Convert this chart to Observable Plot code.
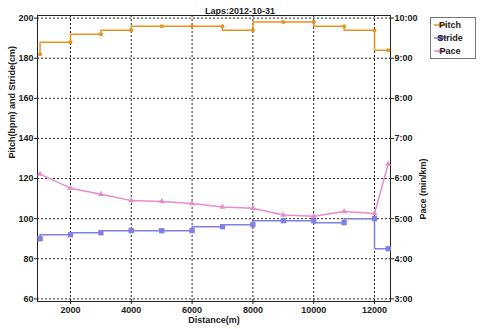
<!DOCTYPE html>
<html><head><meta charset="utf-8">
<script src="https://cdn.jsdelivr.net/npm/d3@7"></script>
<script src="https://cdn.jsdelivr.net/npm/@observablehq/plot@0.6"></script>
<style>
body{margin:0;background:#fff}
svg{font-family:"Liberation Sans",Arial,sans-serif}
</style>
</head><body><div id="chart"></div>
<script>
const distance = [1000, 2000, 3000, 4000, 5000, 6000, 7000, 8000, 9000, 10000, 11000, 12000, 12450];
const pitch    = [182, 188, 192, 194, 196, 196, 196, 194, 198, 198, 196, 194, 184];
const stride   = [90, 92, 93, 94, 94, 94, 96, 97, 99, 99, 98, 100, 85];
const paceMin  = [6.11, 5.76, 5.61, 5.45, 5.43, 5.38, 5.29, 5.26, 5.09, 5.06, 5.18, 5.13, 6.36];
const xTicks = [2000, 4000, 6000, 8000, 10000, 12000];
const leftTicks = [60, 80, 100, 120, 140, 160, 180, 200];
const paceTicks = [3, 4, 5, 6, 7, 8, 9, 10];
const seriesNames = ["Pitch", "Stride", "Pace"];
const colors = {Pitch: "#e8921f", Stride: "#7f7fe6", Pace: "#e98bc9"};

// pace (min/km) shares the left scale: 3:00 <-> 60, 10:00 <-> 200
const toLeft = m => m * 20;
const rows = distance.map((d, i) => ({d, pitch: pitch[i], stride: stride[i], pace: toLeft(paceMin[i])}));

const font = {fontSize: 9, fontWeight: "bold", fill: "#222"};

const chart = Plot.plot({
  width: 480, height: 329,
  marginLeft: 37, marginRight: 90, marginTop: 15, marginBottom: 28,
  x: {domain: [915, 12526]},
  y: {domain: [58.7, 201.3]},
  style: {fontFamily: "Liberation Sans, Arial, sans-serif", fontSize: "9px", color: "#222", background: "#fff"},
  marks: [
    Plot.gridX(xTicks, {stroke: "#000", strokeOpacity: 0.85, strokeDasharray: "2,2"}),
    Plot.gridY(leftTicks, {stroke: "#000", strokeOpacity: 0.85, strokeDasharray: "2,2"}),
    Plot.frame({stroke: "#222", strokeWidth: 1}),
    Plot.axisY(leftTicks, {anchor: "left", tickSize: 3, tickPadding: 1, label: null, fontWeight: "bold"}),
    Plot.axisY(paceTicks.map(toLeft), {anchor: "right", tickSize: 3, tickPadding: 1, label: null, fontWeight: "bold",
      tickFormat: v => `${v / 20}:00`}),
    Plot.axisX(xTicks, {anchor: "bottom", tickSize: 3, tickPadding: 2, label: null, fontWeight: "bold",
      tickFormat: d => String(d)}),
    // Pitch
    Plot.line(rows, {x: "d", y: "pitch", curve: "step-before", stroke: colors.Pitch, strokeWidth: 1.5}),
    Plot.dot(rows, {x: "d", y: "pitch", r: 2, fill: colors.Pitch, stroke: "none"}),
    // Stride
    Plot.line(rows, {x: "d", y: "stride", curve: "step-before", stroke: colors.Stride, strokeWidth: 1.5}),
    Plot.dot(rows, {x: "d", y: "stride", symbol: "square", r: 3, fill: colors.Stride, stroke: "none"}),
    // Pace
    Plot.line(rows, {x: "d", y: "pace", stroke: colors.Pace, strokeWidth: 1.5}),
    Plot.dot(rows, {x: "d", y: "pace", symbol: "triangle", r: 2.2, fill: colors.Pace, stroke: "none"}),
    // Labels
    Plot.text(["Laps:2012-10-31"], {frameAnchor: "top", dx: 26, dy: -8, ...font}),
    Plot.text(["Distance(m)"], {frameAnchor: "bottom", dy: 21, ...font}),
    Plot.text(["Pitch(bpm) and Stride(cm)"], {frameAnchor: "left", dx: -25, rotate: -90, ...font}),
    Plot.text(["Pace (min/km)"], {frameAnchor: "right", dx: 33, rotate: -90, ...font})
  ]
});

// Legend
const svg = d3.select(chart);
const lg = svg.append("g");
lg.append("rect").attr("x", 430.5).attr("y", 17.5).attr("width", 45).attr("height", 41)
  .attr("fill", "#fff").attr("stroke", "#777");
seriesNames.forEach((name, i) => {
  const y = 25 + i * 13;
  const c = colors[name];
  lg.append("line").attr("x1", 434).attr("x2", 447).attr("y1", y).attr("y2", y)
    .attr("stroke", c).attr("stroke-width", 1.5);
  if (name === "Pitch") lg.append("circle").attr("cx", 440.5).attr("cy", y).attr("r", 2).attr("fill", c);
  else if (name === "Stride") lg.append("rect").attr("x", 438).attr("y", y - 2.5).attr("width", 5).attr("height", 5).attr("fill", c);
  else lg.append("path").attr("d", d3.symbol(d3.symbolTriangle, 16)()).attr("transform", `translate(440.5,${y})`).attr("fill", c);
  lg.append("text").attr("x", 450).attr("y", y).attr("dy", "0.35em")
    .attr("font-size", 9).attr("font-weight", "bold").attr("fill", "#222").text(name);
});

document.getElementById("chart").appendChild(chart);
</script>
</body></html>
